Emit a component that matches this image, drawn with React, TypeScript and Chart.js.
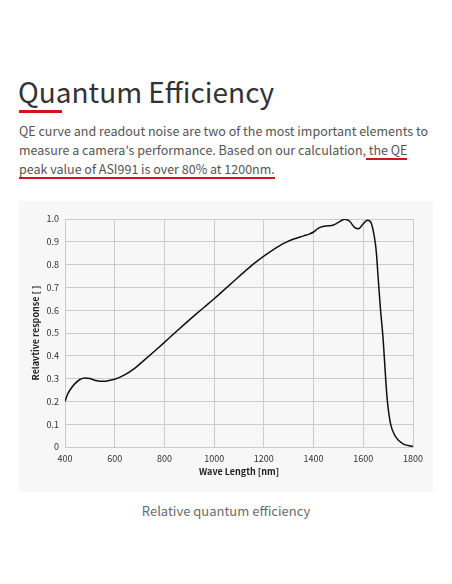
import React, { useEffect, useRef } from "react";
import { Chart, registerables } from "chart.js";

Chart.register(...registerables);

const wavelengths = [
  400, 410, 420, 440, 460, 480, 500, 520, 540, 560, 580, 600, 640, 680, 720, 760, 800, 840, 880, 920, 960,
  1000, 1040, 1080, 1120, 1160, 1200, 1240, 1280, 1320, 1360, 1385, 1400, 1417, 1437, 1460, 1480, 1500, 1525,
  1545, 1565, 1580, 1600, 1617, 1632, 1644, 1652, 1660, 1668, 1680, 1690, 1697, 1710, 1730, 1758, 1790, 1800,
];
const response = [
  0.2, 0.23, 0.25, 0.278, 0.296, 0.303, 0.3, 0.293, 0.288, 0.288, 0.293, 0.297, 0.316, 0.345, 0.382, 0.42,
  0.459, 0.499, 0.538, 0.576, 0.613, 0.65, 0.689, 0.728, 0.767, 0.804, 0.837, 0.867, 0.893, 0.912, 0.926, 0.935,
  0.943, 0.958, 0.967, 0.97, 0.974, 0.985, 0.999, 0.99, 0.963, 0.957, 0.979, 0.994, 0.982, 0.925, 0.86, 0.74,
  0.62, 0.47, 0.3, 0.2, 0.1, 0.045, 0.015, 0.004, 0.003,
];

const xTitle = "Wave Length [nm]";
const yTitle = "Relavtive response [ ]";
const headline = "Quantum Efficiency";
const paraLines = [
  "QE curve and readout noise are two of the most important elements to",
  "measure a camera's performance. Based on our calculation, the QE",
  "peak value of ASI991 is over 80% at 1200nm.",
];
const caption = "Relative quantum efficiency";

const TEXT_FONT = "'Noto Sans CJK SC', 'Noto Sans', sans-serif";
const CHART_FONT = "'Noto Sans CJK SC', 'Noto Sans', sans-serif";
const RED = "#d3141c";

function QEChart() {
  const ref = useRef<HTMLCanvasElement | null>(null);
  useEffect(() => {
    if (!ref.current) return;
    const points = wavelengths.map((w, i) => ({ x: w, y: response[i] }));
    const chart = new Chart(ref.current, {
      type: "line",
      data: {
        datasets: [
          {
            data: points,
            borderColor: "#111111",
            borderWidth: 1.5,
            pointRadius: 0,
            fill: false,
            cubicInterpolationMode: "monotone",
          },
        ],
      },
      options: {
        animation: false,
        responsive: true,
        maintainAspectRatio: false,
        layout: { padding: { top: 18, right: 20, left: 0, bottom: 0 } },
        plugins: { legend: { display: false }, tooltip: { enabled: false } },
        scales: {
          x: {
            type: "linear",
            min: 400,
            max: 1800,
            afterFit: (s: any) => {
              s.height = 45;
            },
            ticks: {
              stepSize: 200,
              padding: 6,
              color: "#333333",
              font: { family: CHART_FONT, size: 9 },
              maxRotation: 0,
              callback: (v: any) => String(v),
            },
            grid: { color: "#cccccc", lineWidth: 1, drawTicks: false },
            border: { color: "#cccccc" },
            title: {
              display: true,
              text: xTitle,
              color: "#222222",
              font: { family: CHART_FONT, size: 9, weight: "bold" },
              padding: { top: 0, bottom: 15 },
            },
          },
          y: {
            min: 0,
            max: 1,
            afterFit: (s: any) => {
              s.width = 46;
            },
            ticks: {
              stepSize: 0.1,
              padding: 6,
              color: "#333333",
              font: { family: CHART_FONT, size: 9 },
              callback: (v: any) => (Number(v) === 0 ? "0" : Number(v).toFixed(1)),
            },
            grid: { color: "#cccccc", lineWidth: 1, drawTicks: false },
            border: { color: "#cccccc" },
            title: {
              display: true,
              text: yTitle,
              color: "#222222",
              font: { family: CHART_FONT, size: 9, weight: "bold" },
              padding: { top: 11, bottom: 0 },
            },
          },
        },
      },
    });
    return () => chart.destroy();
  }, []);
  return <canvas ref={ref} style={{ width: "100%", height: "100%" }} />;
}

export default function App() {
  const abs: React.CSSProperties = { position: "absolute", whiteSpace: "nowrap" };
  return (
    <div
      style={{
        position: "absolute",
        left: 0,
        top: 0,
        width: 452,
        height: 584,
        background: "#ffffff",
        overflow: "hidden",
        fontFamily: TEXT_FONT,
      }}
    >
      <div style={{ ...abs, left: 18, top: 77, fontSize: 28, lineHeight: "28px", color: "#333333" }}>
        {headline}
      </div>
      <div style={{ position: "absolute", left: 19, top: 110, width: 43, height: 3, background: RED }} />
      {paraLines.map((t, i) => (
        <div
          key={i}
          style={{ ...abs, left: 19, top: 121 + i * 19, fontSize: 12.5, lineHeight: "19px", color: "#555555" }}
        >
          {t}
        </div>
      ))}
      <div style={{ position: "absolute", left: 366, top: 157.5, width: 41, height: 2, background: RED }} />
      <div style={{ position: "absolute", left: 19, top: 176.5, width: 256, height: 2, background: RED }} />
      <div
        style={{
          position: "absolute",
          left: 19,
          top: 201,
          width: 414,
          height: 291,
          background: "#f7f7f7",
        }}
      >
        <QEChart />
      </div>
      <div
        style={{
          ...abs,
          left: 0,
          width: 452,
          textAlign: "center",
          top: 501,
          fontSize: 13,
          lineHeight: "20px",
          color: "#6a6a6a",
        }}
      >
        {caption}
      </div>
    </div>
  );
}
